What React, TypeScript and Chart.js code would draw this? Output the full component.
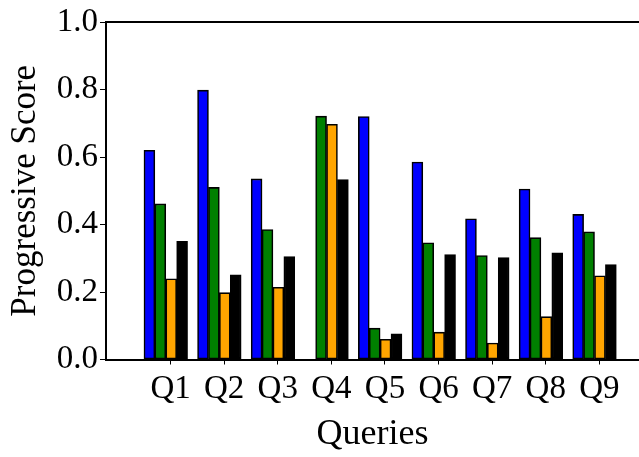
import React, { useEffect, useRef } from "react";
import { Chart, registerables } from "chart.js";

Chart.register(...registerables);

const categories = ["Q1", "Q2", "Q3", "Q4", "Q5", "Q6", "Q7", "Q8", "Q9"];
const seriesBlue = [0.62, 0.798, 0.535, 0.0, 0.72, 0.585, 0.417, 0.505, 0.43];
const seriesGreen = [0.461, 0.51, 0.385, 0.721, 0.093, 0.346, 0.308, 0.361, 0.378];
const seriesOrange = [0.239, 0.198, 0.214, 0.697, 0.06, 0.081, 0.049, 0.127, 0.248];
const seriesBlack = [0.35, 0.251, 0.305, 0.533, 0.076, 0.311, 0.302, 0.316, 0.281];
const yTicks = [0.0, 0.2, 0.4, 0.6, 0.8, 1.0];

const FONT = "'Liberation Serif', 'Times New Roman', serif";
const GROUP_SHIFT = -0.09;
const X_MIN = -0.205;
const X_MAX = 9.74;

function toPoints(values: number[]) {
  return values.map((v, i) => ({ x: i + 1 + GROUP_SHIFT, y: v }));
}

export default function App() {
  const ref = useRef<HTMLCanvasElement | null>(null);

  useEffect(() => {
    if (!ref.current) return;
    const mk = (label: string, values: number[], color: string) => ({
      label,
      data: toPoints(values),
      backgroundColor: color,
      borderColor: "#000000",
      borderWidth: 1.6,
      borderSkipped: false as const,
      barThickness: 10.9,
    });
    const chart = new Chart(ref.current, {
      type: "bar",
      data: {
        datasets: [
          mk("A", seriesBlue, "#0000ff"),
          mk("B", seriesGreen, "#008000"),
          mk("C", seriesOrange, "#ffa500"),
          mk("D", seriesBlack, "#000000"),
        ],
      },
      options: {
        animation: false,
        responsive: false,
        devicePixelRatio: 1,
        layout: { padding: 0 },
        plugins: {
          legend: { display: false },
          tooltip: { enabled: false },
        },
        scales: {
          x: {
            type: "linear",
            position: "bottom",
            min: X_MIN,
            max: X_MAX,
            offset: false,
            afterBuildTicks: (s: any) => {
              s.ticks = categories.map((_, i) => ({ value: i + 1 }));
            },
            afterFit: (s: any) => {
              s.height = 97.5;
            },
            ticks: {
              color: "#000",
              font: { family: FONT, size: 33 },
              padding: 5,
              maxRotation: 0,
              autoSkip: false,
              callback: (v: any) => categories[Math.round(Number(v)) - 1] ?? "",
            },
            grid: {
              display: true,
              drawOnChartArea: false,
              drawTicks: true,
              tickLength: 5,
              color: "#000",
              lineWidth: 1,
              offset: false,
            },
            border: { display: true, color: "#000", width: 2 },
            title: {
              display: true,
              text: "Queries",
              color: "#000",
              font: { family: FONT, size: 36 },
              padding: { top: 0, bottom: 1 },
            },
          },
          xTop: {
            type: "linear",
            position: "top",
            min: X_MIN,
            max: X_MAX,
            offset: false,
            afterFit: (s: any) => {
              s.height = 22;
            },
            ticks: { display: false },
            grid: { display: false },
            border: { display: true, color: "#000", width: 2 },
          },
          y: {
            type: "linear",
            min: 0,
            max: 1,
            afterBuildTicks: (s: any) => {
              s.ticks = yTicks.map((v) => ({ value: v }));
            },
            afterFit: (s: any) => {
              s.width = 106;
            },
            ticks: {
              color: "#000",
              font: { family: FONT, size: 33 },
              padding: 2,
              callback: (v: any) => Number(v).toFixed(1),
            },
            grid: {
              display: true,
              drawOnChartArea: false,
              drawTicks: true,
              tickLength: 6,
              color: "#000",
              lineWidth: 1,
            },
            border: { display: true, color: "#000", width: 2 },
            title: {
              display: true,
              text: "Progressive Score",
              color: "#000",
              font: { family: FONT, size: 35 },
              padding: { top: 5, bottom: 0 },
            },
          },
        },
      } as any,
    });
    return () => chart.destroy();
  }, []);

  return (
    <div style={{ position: "fixed", left: 0, top: 0, width: 639, height: 457, background: "#fff" }}>
      <canvas ref={ref} width={639} height={457} style={{ display: "block" }} />
    </div>
  );
}
